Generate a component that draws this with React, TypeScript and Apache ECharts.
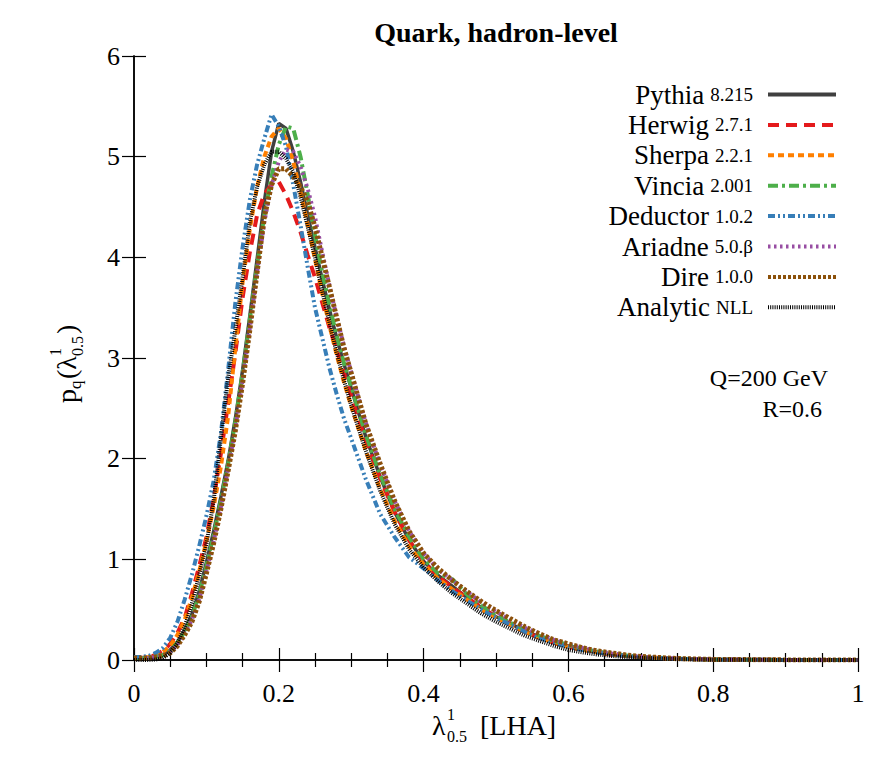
import React, { useEffect, useRef } from "react";
import * as echarts from "echarts";

// λ grid (fine binning around the peak, coarser in the tail)
const X = [
  0, 0.01, 0.02, 0.03, 0.04, 0.05, 0.06, 0.07, 0.08, 0.09,
  0.1, 0.11, 0.12, 0.13, 0.14, 0.15, 0.16, 0.17, 0.18, 0.19,
  0.2, 0.21, 0.22, 0.23, 0.24, 0.25, 0.26, 0.27, 0.28, 0.29,
  0.3,
  0.32, 0.34, 0.36, 0.38, 0.4, 0.42, 0.44, 0.46, 0.48, 0.5,
  0.52, 0.54, 0.56, 0.58, 0.6, 0.62, 0.64, 0.66, 0.68, 0.7,
  0.75, 0.8, 0.9, 1.0,
];

const pythia = [
  0.02, 0.02, 0.02, 0.03, 0.05, 0.1, 0.18, 0.3, 0.45, 0.68,
  0.97, 1.28, 1.62, 1.98, 2.4, 2.88, 3.42, 3.98, 4.55, 5.05,
  5.33, 5.28, 5.05, 4.75, 4.42, 4.1, 3.78, 3.48, 3.2, 2.94,
  2.7,
  2.22, 1.82, 1.47, 1.19, 0.98, 0.84, 0.73, 0.62, 0.52, 0.43,
  0.36, 0.29, 0.23, 0.18, 0.14, 0.11, 0.08, 0.06, 0.04, 0.03,
  0.012, 0.005, 0.001, 0,
];

const herwig = [
  0.02, 0.02, 0.03, 0.05, 0.09, 0.16, 0.27, 0.42, 0.66, 0.93,
  1.22, 1.6, 2.05, 2.55, 3.05, 3.6, 4.05, 4.42, 4.63, 4.72,
  4.75, 4.62, 4.45, 4.25, 4.02, 3.8, 3.55, 3.3, 3.08, 2.85,
  2.62,
  2.18, 1.8, 1.47, 1.19, 0.97, 0.83, 0.72, 0.62, 0.52, 0.43,
  0.35, 0.28, 0.22, 0.17, 0.13, 0.1, 0.08, 0.05, 0.04, 0.03,
  0.012, 0.005, 0.001, 0,
];

const sherpa = [
  0.02, 0.02, 0.03, 0.05, 0.08, 0.14, 0.25, 0.4, 0.62, 0.88,
  1.18, 1.52, 1.92, 2.42, 3.1, 3.75, 4.28, 4.7, 5.0, 5.2,
  5.28, 5.18, 4.95, 4.65, 4.32, 3.98, 3.64, 3.32, 3.03, 2.76,
  2.52,
  2.08, 1.7, 1.38, 1.13, 0.95, 0.81, 0.7, 0.6, 0.5, 0.42,
  0.35, 0.28, 0.22, 0.17, 0.13, 0.1, 0.075, 0.055, 0.04, 0.028,
  0.011, 0.004, 0.001, 0,
];

const vincia = [
  0.02, 0.02, 0.02, 0.03, 0.05, 0.09, 0.17, 0.28, 0.43, 0.65,
  0.93, 1.24, 1.58, 1.95, 2.37, 2.85, 3.38, 3.92, 4.42, 4.8,
  5.12, 5.3, 5.28, 5.0, 4.62, 4.22, 3.85, 3.52, 3.22, 2.95,
  2.72,
  2.24, 1.84, 1.5, 1.22, 1.0, 0.86, 0.8, 0.65, 0.54, 0.45,
  0.37, 0.3, 0.24, 0.19, 0.15, 0.11, 0.085, 0.06, 0.045, 0.032,
  0.013, 0.005, 0.001, 0,
];

const deductor = [
  0.03, 0.03, 0.04, 0.07, 0.12, 0.22, 0.38, 0.6, 0.85, 1.13,
  1.43, 1.78, 2.25, 2.88, 3.55, 4.1, 4.57, 4.92, 5.18, 5.42,
  5.3, 5.1, 4.72, 4.32, 3.9, 3.5, 3.2, 2.9, 2.64, 2.4,
  2.2,
  1.8, 1.45, 1.22, 1.02, 0.91, 0.79, 0.68, 0.59, 0.5, 0.42,
  0.35, 0.28, 0.22, 0.17, 0.13, 0.1, 0.075, 0.055, 0.04, 0.028,
  0.011, 0.004, 0.001, 0,
];

const ariadne = [
  0.02, 0.02, 0.02, 0.03, 0.04, 0.08, 0.15, 0.26, 0.4, 0.6,
  0.88, 1.18, 1.52, 1.9, 2.3, 2.78, 3.3, 3.85, 4.35, 4.72,
  4.95, 5.07, 5.05, 4.9, 4.68, 4.4, 4.05, 3.72, 3.4, 3.12,
  2.86,
  2.36, 1.94, 1.58, 1.28, 1.06, 0.9, 0.79, 0.68, 0.57, 0.48,
  0.4, 0.32, 0.26, 0.2, 0.16, 0.12, 0.09, 0.065, 0.047, 0.034,
  0.014, 0.006, 0.001, 0,
];

const dire = [
  0.02, 0.02, 0.02, 0.03, 0.04, 0.07, 0.14, 0.25, 0.38, 0.58,
  0.86, 1.16, 1.5, 1.88, 2.28, 2.75, 3.28, 3.85, 4.4, 4.72,
  4.88, 4.88, 4.8, 4.7, 4.55, 4.3, 4.0, 3.7, 3.4, 3.1,
  2.85,
  2.35, 1.95, 1.58, 1.28, 1.06, 0.91, 0.79, 0.68, 0.58, 0.49,
  0.41, 0.33, 0.26, 0.2, 0.16, 0.12, 0.09, 0.07, 0.05, 0.035,
  0.015, 0.006, 0.001, 0,
];

const analytic = [
  0, 0, 0, 0.005, 0.02, 0.07, 0.17, 0.33, 0.56, 0.84,
  1.15, 1.58, 2.2, 2.8, 3.28, 3.8, 4.35, 4.7, 4.92, 5.05,
  5.05, 4.98, 4.85, 4.6, 4.3, 4.0, 3.66, 3.35, 3.05, 2.78,
  2.53,
  2.08, 1.68, 1.35, 1.1, 0.92, 0.78, 0.66, 0.56, 0.46, 0.38,
  0.31, 0.24, 0.19, 0.14, 0.1, 0.075, 0.055, 0.04, 0.028, 0.02,
  0.008, 0.003, 0.0005, 0,
];

const NAMES = [
  "Pythia 8.215",
  "Herwig 2.7.1",
  "Sherpa 2.2.1",
  "Vincia 2.001",
  "Deductor 1.0.2",
  "Ariadne 5.0.β",
  "Dire 1.0.0",
  "Analytic NLL",
];
const VALUES = [pythia, herwig, sherpa, vincia, deductor, ariadne, dire, analytic];
const COLORS = ["#404040", "#e41a1c", "#ff7f00", "#4daf4a", "#377eb8", "#984ea3", "#8c510a", "#000000"];
const DASHES: (number[] | "solid")[] = [
  "solid",
  [11, 7],
  [6, 4],
  [10, 4, 3, 4],
  [7, 3, 2, 3, 2, 3],
  [2.5, 3.5],
  [3, 2],
  [1, 1.2],
];
const WIDTHS = [3.5, 4, 4, 4, 4, 4, 5, 4];

const FONT = "'Liberation Serif', 'DejaVu Serif', serif";

export default function App() {
  const ref = useRef<HTMLDivElement>(null);

  useEffect(() => {
    if (!ref.current) return;
    const chart = echarts.init(ref.current, null, { renderer: "svg" });

    const axisCommon = {
      type: "value" as const,
      axisLine: { show: true, lineStyle: { color: "#000", width: 1.5 } },
      splitLine: { show: false },
    };
    const tick = { show: true, inside: true, length: 12, lineStyle: { color: "#000", width: 1.2 } };
    const minor = { show: true, splitNumber: 4, length: 7, lineStyle: { color: "#000", width: 1.2 } };

    const series = NAMES.map((name, k) => ({
      name,
      type: "line",
      xAxisIndex: 0,
      yAxisIndex: 0,
      data: X.map((x, i) => [x, VALUES[k][i]]),
      symbol: "none",
      showSymbol: false,
      smooth: false,
      lineStyle: { color: COLORS[k], width: WIDTHS[k], type: DASHES[k] },
      itemStyle: { color: COLORS[k] },
      z: 2 + k,
    }));

    const txt = (x: number, y: number, text: string, size: number) => ({
      type: "text",
      x,
      y,
      style: { text, font: `${size}px ${FONT}`, fill: "#000", align: "left", verticalAlign: "middle" },
    });

    const option = {
      animation: false,
      grid: { left: 134, right: 28, top: 56, bottom: 107 },
      xAxis: [
        {
          ...axisCommon,
          position: "bottom",
          min: 0,
          max: 1,
          interval: 0.2,
          axisTick: tick,
          minorTick: minor,
          axisLabel: { fontFamily: FONT, fontSize: 26, color: "#000", margin: 20 },
        },
        {
          ...axisCommon,
          position: "top",
          min: 0,
          max: 1,
          interval: 0.2,
          axisTick: tick,
          minorTick: minor,
          axisLabel: { show: false },
        },
      ],
      yAxis: [
        {
          ...axisCommon,
          position: "left",
          min: 0,
          max: 6,
          interval: 1,
          axisTick: tick,
          axisLabel: { fontFamily: FONT, fontSize: 26, color: "#000", margin: 14 },
        },
        {
          ...axisCommon,
          position: "right",
          min: 0,
          max: 6,
          interval: 1,
          axisTick: tick,
          axisLabel: { show: false },
        },
      ],
      legend: {
        orient: "vertical",
        right: 48,
        top: 81,
        padding: 0,
        align: "right",
        itemWidth: 68,
        itemHeight: 14,
        itemGap: 3.4,
        selectedMode: false,
        data: NAMES,
        itemStyle: { color: "rgba(0,0,0,0)", borderWidth: 0, opacity: 0 },
        lineStyle: { width: 4 },
        formatter: (n: string) => {
          const i = n.indexOf(" ");
          return `{a|${n.slice(0, i)}}{b|${n.slice(i + 1)}}`;
        },
        textStyle: {
          fontFamily: FONT,
          color: "#000",
          padding: [0, 10, 0, 0],
          rich: {
            a: { fontFamily: FONT, fontSize: 27, lineHeight: 30, color: "#000" },
            b: { fontFamily: FONT, fontSize: 19, lineHeight: 30, color: "#000", padding: [0, 0, 0, 6] },
          },
        },
      },
      graphic: [
        {
          type: "text",
          x: 496,
          y: 32,
          style: {
            text: "Quark, hadron-level",
            font: `bold 28px ${FONT}`,
            fill: "#000",
            align: "center",
            verticalAlign: "middle",
          },
        },
        {
          type: "text",
          x: 828,
          y: 378,
          style: { text: "Q=200 GeV", font: `24px ${FONT}`, fill: "#000", align: "right", verticalAlign: "middle" },
        },
        {
          type: "text",
          x: 822,
          y: 409,
          style: { text: "R=0.6", font: `24px ${FONT}`, fill: "#000", align: "right", verticalAlign: "middle" },
        },
        // horizontal axis title: λ^1_{0.5} [LHA]
        {
          type: "group",
          children: [
            txt(432, 725, "λ", 28),
            txt(447, 714, "1", 16),
            txt(447, 736, "0.5", 16),
            txt(480, 725, "[LHA]", 28),
          ],
        },
        // vertical axis title: p_q(λ^1_{0.5})
        {
          type: "group",
          x: 66,
          y: 358,
          rotation: Math.PI / 2,
          children: [
            txt(-45, 0, "p", 28),
            txt(-31, 9, "q", 17),
            txt(-21, 0, "(λ", 28),
            txt(2, -11, "1", 16),
            txt(2, 11, "0.5", 16),
            txt(24, 0, ")", 28),
          ],
        },
      ],
      series,
    };

    chart.setOption(option as any);
    return () => chart.dispose();
  }, []);

  return <div ref={ref} style={{ position: "absolute", left: 0, top: 0, width: 886, height: 767 }} />;
}
